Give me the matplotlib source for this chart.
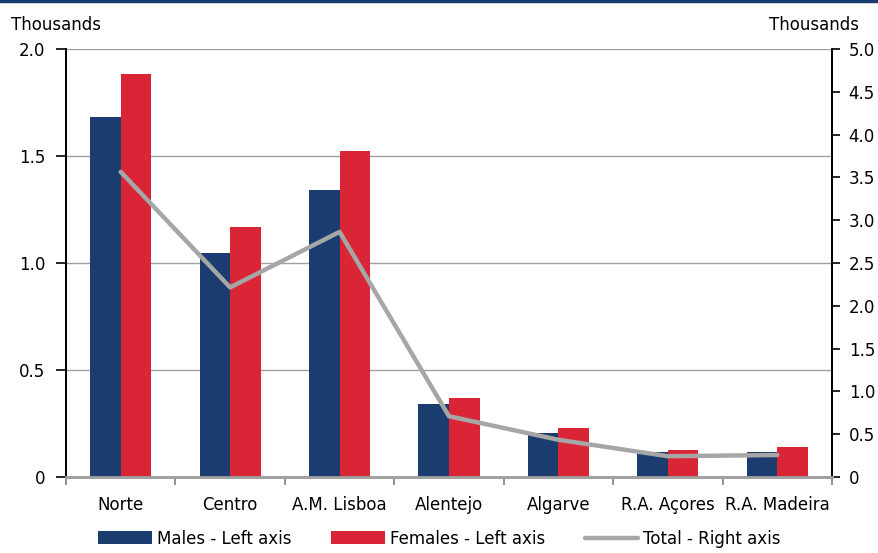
import numpy as np
import matplotlib.pyplot as plt
from matplotlib.lines import Line2D

regions = ["Norte", "Centro", "A.M. Lisboa", "Alentejo", "Algarve", "R.A. Açores", "R.A. Madeira"]
males = [1.682, 1.047, 1.341, 0.341, 0.206, 0.117, 0.117]
females = [1.883, 1.168, 1.523, 0.369, 0.229, 0.126, 0.140]
total = [3.565, 2.215, 2.864, 0.710, 0.435, 0.243, 0.257]

left_ticks = [0, 0.5, 1.0, 1.5, 2.0]
left_labels = ["0", "0.5", "1.0", "1.5", "2.0"]
right_ticks = [0, 0.5, 1.0, 1.5, 2.0, 2.5, 3.0, 3.5, 4.0, 4.5, 5.0]
right_labels = ["0"] + ["%.1f" % t for t in right_ticks[1:]]

navy = "#1b3c6e"
red = "#da2536"
grey = "#a6a6a6"

plt.rcParams["font.family"] = ["DejaVu Sans"]
plt.rcParams["font.size"] = 12

fig = plt.figure(figsize=(8.79, 5.53), dpi=100)
ax = fig.add_axes([0.0751, 0.1374, 0.8714, 0.774])
ax2 = ax.twinx()

x = np.arange(len(regions))
w = 0.28
ax.bar(x - w / 2, males, w, color=navy, label="Males - Left axis", zorder=3)
ax.bar(x + w / 2, females, w, color=red, label="Females - Left axis", zorder=3)
ax2.plot(x, total, color=grey, lw=3.2, label="Total - Right axis", solid_capstyle="round")

ax.set_xlim(-0.5, len(regions) - 0.5)
ax.set_ylim(0, 2.0)
ax2.set_ylim(0, 5.0)

ax.set_yticks(left_ticks)
ax.set_yticklabels(left_labels)
ax2.set_yticks(right_ticks)
ax2.set_yticklabels(right_labels)

ax.set_xticks(x)
ax.set_xticklabels(regions)
ax.set_xticks(np.arange(-0.5, len(regions)), minor=True)
ax.tick_params(axis="x", which="major", length=0, pad=14)
ax.tick_params(axis="x", which="minor", length=6, color="#808080", width=1.2)
ax.tick_params(axis="y", length=7, width=1.2, pad=8)
ax2.tick_params(axis="y", length=6, width=1.2, pad=6)

ax.grid(axis="y", color="#a0a0a0", lw=1.0, zorder=0)
ax.set_axisbelow(True)

for a in (ax, ax2):
    a.spines["top"].set_visible(False)
    a.spines["bottom"].set_color("#a0a0a0")
    a.spines["bottom"].set_linewidth(2)
    a.spines["left"].set_linewidth(1.3)
    a.spines["right"].set_linewidth(1.3)

fig.text(0.013, 0.955, "Thousands", ha="left", va="center")
fig.text(0.977, 0.955, "Thousands", ha="right", va="center")

# thin blue rule along the top edge
fig.add_artist(Line2D([0, 1], [0.998, 0.998], color=navy, lw=2.5, transform=fig.transFigure))

handles = ax.get_legend_handles_labels()[0] + ax2.get_legend_handles_labels()[0]
labels = ax.get_legend_handles_labels()[1] + ax2.get_legend_handles_labels()[1]
fig.legend(handles, labels, loc="center", bbox_to_anchor=(0.5, 0.026), ncol=3,
           frameon=False, handlelength=3.2, handleheight=0.8, handletextpad=0.3,
           columnspacing=2.4, borderpad=0.1)

fig.savefig("out.png", dpi=100)
